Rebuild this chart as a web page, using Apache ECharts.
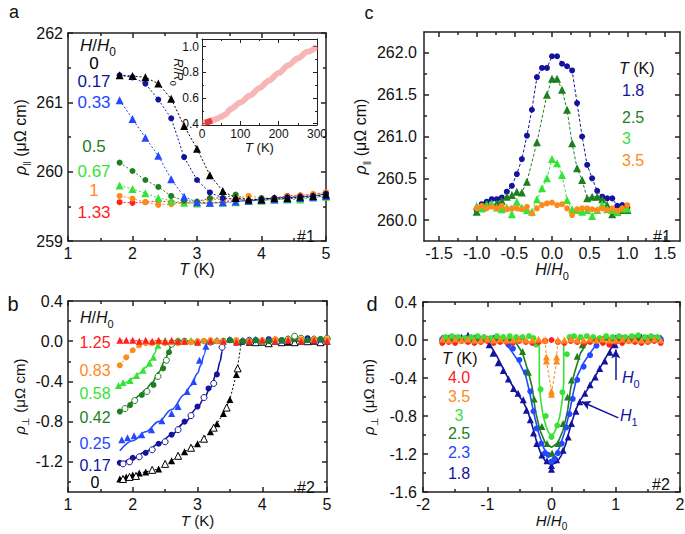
<!DOCTYPE html>
<html><head><meta charset="utf-8">
<script src="https://cdn.jsdelivr.net/npm/echarts@6/dist/echarts.min.js"></script>
<style>html,body{margin:0;padding:0;background:#fff}#c{width:685px;height:534px}</style>
</head><body><div id="c"></div>
<script>
// ================= DATA =================
// Panel a : rho_par vs T for several H/H0
const aT     = [1.8,2.0,2.2,2.4,2.6,2.8,3.0,3.2,3.4,3.6,3.8,4.0,4.2,4.4,4.6,4.8,5.0];
const aH0    = [261.39,261.38,261.36,261.27,261.05,260.66,260.33,259.95,259.72,259.62,259.60,259.60,259.62,259.62,259.64,259.65,259.67];
const aH017  = [261.39,261.36,261.27,261.04,260.77,260.21,259.88,259.70,259.62,259.60,259.58,259.60,259.62,259.63,259.64,259.65,259.68];
const aH033  = [261.03,260.76,260.49,260.23,259.89,259.64,259.56,259.55,259.56,259.57,259.58,259.59,259.60,259.61,259.62,259.63,259.65];
const aH05   = [260.13,260.01,259.88,259.78,259.65,259.58,259.57,259.62,259.62,259.67,259.58,259.62,259.60,259.62,259.63,259.64,259.68];
const aH067  = [259.80,259.75,259.69,259.62,259.58,259.55,259.54,259.55,259.55,259.56,259.58,259.58,259.60,259.60,259.60,259.63,259.64];
const aH1    = [259.65,259.61,259.56,259.52,259.53,259.55,259.56,259.60,259.60,259.62,259.65,259.62,259.62,259.64,259.66,259.68,259.70];
const aH133  = [259.56,259.55,259.56,259.58,259.56,259.55,259.55,259.54,259.56,259.60,259.58,259.60,259.62,259.65,259.66,259.67,259.70];
const aLabels = ['0','0.17','0.33','0.5','0.67','1','1.33'];
// inset R/R0 vs T
const insetT = [0,5,10,20,30,40,50,60,75,100,125,150,175,200,225,250,275,300];
const insetR = [0.41,0.41,0.41,0.42,0.43,0.44,0.455,0.47,0.515,0.565,0.62,0.678,0.737,0.795,0.855,0.91,0.96,1.0];
const insetLowT = [8,14,20,26];
const insetLowR = [0.408,0.412,0.418,0.425];

// Panel c : rho_par vs H/H0 for several T
const cH   = [-1.0,-0.933,-0.867,-0.8,-0.733,-0.667,-0.6,-0.533,-0.467,-0.4,-0.333,-0.267,-0.2,-0.133,-0.067,0,0.067,0.133,0.2,0.267,0.333,0.4,0.467,0.533,0.6,0.667,0.733,0.8,0.867,0.933,1.0];
const cT18 = [260.12,260.19,260.22,260.25,260.25,260.27,260.34,260.41,260.55,260.73,261.01,261.32,261.71,261.82,261.82,261.96,261.96,261.87,261.84,261.79,261.40,261.00,260.66,260.50,260.35,260.28,260.26,260.26,260.17,260.18,260.15];
const cT25 = [260.10,260.15,260.20,260.18,260.20,260.23,260.28,260.30,260.34,260.33,260.46,null,260.93,null,261.50,261.69,261.69,261.56,261.32,260.92,260.62,260.48,260.26,260.28,260.28,260.25,260.18,260.07,260.10,260.12,260.12];
const cT3  = [260.17,260.14,260.18,260.20,260.15,260.13,260.15,260.07,260.22,260.15,260.12,260.10,260.25,260.38,260.50,260.73,260.68,260.54,260.24,260.13,260.12,260.10,260.12,260.05,260.12,260.19,260.13,260.12,260.10,260.14,260.14];
const cT35 = [260.14,260.17,260.14,260.16,260.14,260.17,260.13,260.14,260.14,260.13,260.16,260.08,260.14,260.18,260.20,260.21,260.18,260.19,260.14,260.06,260.13,260.14,260.14,260.13,260.12,260.14,260.12,260.14,260.11,260.14,260.18];
const cLabels = ['1.8','2.5','3','3.5'];

// Panel b : rho_perp vs T for several H/H0
const bRedT = [1.8,1.9,2.0,2.1,2.2,2.3,2.4,2.5,2.6,2.7,2.8,3.0,3.2,3.4,3.6,3.8,4.0,4.2,4.4,4.6,4.8,5.0];
const bRedR = [0.01,0.01,0.01,0.0,0.01,0.0,0.01,0.0,0.01,0.0,0.0,-0.01,0.0,0.0,-0.01,0.0,0.01,0.0,0.01,0.0,0.01,0.0];
const bOrT  = [1.8,1.9,2.0,2.1,2.2,2.3,2.4,2.5,2.6,2.7,2.8,2.9,3.0,3.1,3.2,3.3,3.4,3.6,3.8,4.0,4.2,4.4,4.6,4.8,5.0];
const bOrR  = [-0.24,-0.16,-0.09,-0.04,-0.02,-0.02,-0.01,-0.02,-0.01,-0.02,-0.01,-0.01,0.0,0.0,0.01,0.0,-0.01,0.01,0.0,0.01,0.02,0.01,0.02,0.02,0.02];
const bLgT  = [1.78,1.85,1.96,2.06,2.16,2.26,2.32,2.39,2.5,2.6,2.7,2.8,2.9,3.0,3.2,3.4,3.6,3.8,4.0,4.2,4.4,4.6,4.8,5.0];
const bLgR  = [-0.44,-0.41,-0.39,-0.34,-0.29,-0.22,-0.16,-0.04,0.01,0.0,0.01,0.0,0.01,0.0,0.01,0.0,0.01,0.01,0.0,0.01,0.02,0.01,0.02,0.01];
const bLgFitT = [1.8,1.9,2.0,2.1,2.2,2.28,2.34,2.38,2.4];
const bLgFitR = [-0.45,-0.41,-0.37,-0.32,-0.26,-0.19,-0.12,-0.05,0.0];
const bDgT  = [1.8,1.96,2.14,2.32,2.47,2.56,2.7,2.9,3.1,3.3,3.5,3.7,3.9,4.1,4.3,4.5,4.7,4.9];
const bDgR  = [-0.70,-0.635,-0.535,-0.435,-0.27,-0.11,0.0,-0.01,0.0,0.0,0.01,0.0,0.01,0.0,0.01,0.02,0.01,0.02];
const bDgOT = [1.88,2.03,2.22,2.39,2.52,2.6,2.8,3.0,3.2,3.4,3.6,3.8,4.0,4.2,4.4,4.5,4.6,4.8,5.0];
const bDgOR = [-0.67,-0.59,-0.50,-0.35,-0.19,-0.03,0.0,-0.01,-0.01,0.0,-0.01,0.0,0.0,0.01,0.02,0.05,0.03,0.02,0.03];
const bDgFitT = [1.8,1.9,2.0,2.1,2.2,2.3,2.4,2.5,2.55,2.6,2.62];
const bDgFitR = [-0.72,-0.66,-0.60,-0.54,-0.48,-0.41,-0.31,-0.19,-0.11,-0.03,0.0];
const bBlT  = [1.83,1.92,2.02,2.14,2.29,2.45,2.6,2.7,2.84,2.94,3.03,3.13,3.3,3.5,3.7,3.9,4.1,4.3,4.5,4.7,4.9];
const bBlR  = [-0.98,-0.96,-0.94,-0.93,-0.88,-0.79,-0.72,-0.65,-0.50,-0.40,-0.19,-0.05,0.01,0.02,0.01,0.02,0.02,0.01,0.03,0.02,0.02];
const bBlFitT = [1.8,2.0,2.2,2.4,2.6,2.8,2.9,3.0,3.05,3.1,3.14];
const bBlFitR = [-1.09,-0.99,-0.90,-0.80,-0.68,-0.53,-0.44,-0.32,-0.24,-0.14,0.0];
const bNvT  = [1.8,2.0,2.2,2.4,2.6,2.8,3.0,3.17,3.3,3.5,3.7,3.9,4.1,4.3,4.5,4.7,4.9];
const bNvR  = [-1.21,-1.16,-1.11,-1.02,-0.93,-0.80,-0.65,-0.47,-0.33,0.01,0.0,0.01,0.02,0.01,0.02,0.03,0.02];
const bNvOT = [1.85,1.95,2.1,2.3,2.5,2.7,2.9,3.1,3.25,3.38,3.6,3.8,4.0,4.2,4.4,4.6,4.8,5.0];
const bNvOR = [-1.22,-1.20,-1.15,-1.08,-1.00,-0.88,-0.74,-0.56,-0.42,-0.06,0.0,0.01,0.0,0.01,0.02,0.01,0.02,0.02];
const bNvFitT = [1.8,2.0,2.2,2.4,2.6,2.8,3.0,3.1,3.2,3.3,3.35,3.38,3.4];
const bNvFitR = [-1.23,-1.17,-1.10,-1.02,-0.93,-0.81,-0.66,-0.57,-0.46,-0.31,-0.2,-0.1,0.0];
const bKT   = [1.8,1.9,2.0,2.1,2.2,2.4,2.6,2.8,3.0,3.2,3.3,3.4,3.5,3.6,3.68,3.8,4.0,4.2,4.4,4.6,4.8,5.0];
const bKR   = [-1.37,-1.35,-1.33,-1.31,-1.30,-1.27,-1.19,-1.10,-1.02,-0.90,-0.82,-0.72,-0.58,-0.33,0.0,-0.01,-0.01,0.0,-0.01,0.0,0.0,0.0];
const bKOT  = [1.85,1.95,2.05,2.3,2.5,2.7,2.9,3.1,3.25,3.45,3.62,3.9,4.1,4.3,4.5,4.7,4.9];
const bKOR  = [-1.37,-1.35,-1.34,-1.28,-1.22,-1.14,-1.06,-0.97,-0.86,-0.66,-0.27,-0.01,-0.02,-0.01,-0.01,0.0,-0.01];
const bLabels = ['1.25','0.83','0.58','0.42','0.25','0.17','0'];

// Panel d : rho_perp vs H/H0 for several T
const dRedH = [-1.7,-1.6,-1.5,-1.4,-1.3,-1.2,-1.1,-1.0,-0.9,-0.8,-0.7,-0.6,-0.5,-0.4,-0.3,-0.2,-0.1,0,0.1,0.2,0.3,0.4,0.5,0.6,0.7,0.8,0.9,1.0,1.1,1.2,1.3,1.4,1.5,1.6,1.7];
const dRedR = [-0.03,-0.02,-0.03,-0.01,-0.02,-0.03,-0.02,-0.01,-0.03,-0.02,-0.02,-0.03,-0.01,-0.02,-0.03,-0.02,-0.01,0.0,-0.02,-0.03,-0.01,-0.02,-0.03,-0.02,-0.01,-0.03,-0.05,-0.02,-0.03,-0.01,-0.02,-0.03,-0.02,-0.01,-0.03];
const dOrBaseH = [-1.7,-1.6,-1.5,-1.4,-1.3,-1.2,-1.1,-1.0,-0.9,-0.8,-0.7,-0.6,-0.5,-0.4,-0.3,-0.2,0.2,0.3,0.4,0.5,0.6,0.7,0.8,0.9,1.0,1.1,1.2,1.3,1.4,1.5,1.6,1.7];
const dOrBaseR = [0.01,0.0,0.01,0.0,0.01,0.0,0.0,0.01,0.0,0.01,0.0,0.0,0.01,0.0,0.0,0.01,0.0,0.01,0.0,0.0,0.01,0.0,0.01,0.0,0.0,0.01,0.0,0.01,0.0,0.0,0.01,0.0];
const dOrH = [-0.1,-0.08,-0.08,0,0,0.08,0.08,0.1];
const dOrR = [0,-0.18,-0.22,-0.54,-0.57,-0.22,-0.18,0];
const dLgBaseH = [-1.65,-1.55,-1.45,-1.35,-1.25,-1.15,-1.05,-0.95,-0.85,-0.75,-0.65,-0.55,-0.45,-0.35,-0.28,0.28,0.35,0.45,0.55,0.65,0.75,0.85,0.95,1.05,1.15,1.25,1.35,1.45,1.55,1.65];
const dLgBaseR = [0.03,0.04,0.03,0.02,0.03,0.04,0.03,0.02,0.04,0.03,0.04,0.03,0.03,0.04,0.02,0.03,0.04,0.03,0.04,0.03,0.02,0.04,0.03,0.04,0.03,0.04,0.05,0.03,0.04,0.03];
const dLgH = [-0.24,-0.17,-0.09,0,0.09,0.17,0.24];
const dLgR = [-0.05,-0.52,-0.80,-1.02,-0.90,-0.55,-0.15];
const dLgFitH = [-0.19,-0.19,-0.17,-0.13,-0.08,-0.04,0,0.04,0.08,0.13,0.17,0.19,0.19];
const dLgFitR = [0,-0.45,-0.62,-0.80,-0.92,-0.98,-1.0,-0.98,-0.92,-0.80,-0.62,-0.45,0];
const dDgBaseH = [-1.65,-1.55,-1.45,-1.35,-1.25,-1.15,-1.05,-0.95,-0.85,-0.75,-0.65,0.65,0.75,0.85,0.95,1.05,1.15,1.25,1.35,1.45,1.55,1.65];
const dDgBaseR = [0.02,0.01,0.03,0.02,0.01,0.02,0.03,0.01,0.02,0.03,0.02,0.02,0.01,0.03,0.02,0.02,0.01,0.03,0.02,0.01,0.02,0.03];
const dDgH = [-0.45,-0.36,-0.27,-0.15,-0.07,0.01,0.1,0.18,0.25,0.31,0.4,0.48];
const dDgR = [-0.12,-0.34,-0.62,-0.91,-1.09,-1.19,-1.09,-0.88,-0.60,-0.42,-0.17,-0.05];
const dDgFitH = [-0.58,-0.45,-0.36,-0.3,-0.25,-0.18,-0.1,0,0.1,0.18,0.25,0.3,0.36,0.45,0.58];
const dDgFitR = [0,-0.14,-0.34,-0.50,-0.75,-0.95,-1.08,-1.13,-1.08,-0.95,-0.75,-0.50,-0.34,-0.14,0];
const dBlBaseH = [-1.7,-1.6,-1.5,-1.4,-1.3,-1.2,-1.1,-1.0,-0.9,-0.8,0.8,0.9,1.0,1.1,1.2,1.3,1.4,1.5,1.6,1.7];
const dBlBaseR = [0.01,0.02,0.0,0.01,0.02,0.01,0.0,0.01,0.02,0.01,0.01,0.0,0.02,0.01,0.01,0.02,0.0,0.01,0.02,0.01];
const dBlH = [-0.67,-0.6,-0.5,-0.4,-0.33,-0.28,-0.23,-0.16,-0.1,-0.05,0,0.05,0.1,0.16,0.23,0.28,0.33,0.4,0.5,0.6,0.7];
const dBlR = [-0.05,-0.09,-0.21,-0.34,-0.54,-0.75,-0.93,-1.09,-1.19,-1.21,-1.28,-1.25,-1.19,-1.09,-0.92,-0.78,-0.62,-0.42,-0.28,-0.16,-0.06];
const dBlFitH = [-0.75,-0.62,-0.5,-0.4,-0.34,-0.28,-0.2,-0.12,-0.05,0,0.05,0.12,0.2,0.28,0.34,0.4,0.5,0.62,0.75];
const dBlFitR = [0,-0.12,-0.24,-0.38,-0.55,-0.76,-0.98,-1.14,-1.21,-1.22,-1.21,-1.14,-0.98,-0.76,-0.55,-0.38,-0.24,-0.12,0];
const dNvBaseH = [-1.7,-1.6,-1.5,-1.4,-1.3,-1.2,-1.1,-1.0,1.0,1.1,1.2,1.3,1.4,1.5,1.6,1.7];
const dNvBaseR = [0.02,0.01,0.02,0.03,0.05,0.02,0.01,0.01,0.0,0.02,0.01,0.02,0.03,0.02,0.01,0.02];
const dNvH = [-0.97,-0.91,-0.83,-0.75,-0.67,-0.59,-0.52,-0.44,-0.39,-0.33,-0.28,-0.23,-0.15,-0.07,0.0,0.0,0.08,0.18,0.26,0.31,0.38,0.44,0.52,0.6,0.68,0.75,0.83,0.91,0.99];
const dNvR = [-0.05,-0.14,-0.24,-0.32,-0.41,-0.51,-0.56,-0.63,-0.74,-0.84,-0.98,-1.09,-1.21,-1.27,-1.32,-1.36,-1.26,-1.16,-1.02,-0.88,-0.75,-0.65,-0.56,-0.47,-0.39,-0.30,-0.22,-0.13,-0.05];
const dNvFitH = [-1.0,-0.85,-0.7,-0.55,-0.45,-0.38,-0.3,-0.22,-0.15,-0.08,0,0.08,0.15,0.22,0.3,0.38,0.45,0.55,0.7,0.85,1.0];
const dNvFitR = [0,-0.17,-0.37,-0.55,-0.64,-0.73,-0.90,-1.10,-1.22,-1.29,-1.31,-1.29,-1.22,-1.10,-0.90,-0.73,-0.63,-0.53,-0.36,-0.18,0];
const dArrowH0 = [[1.0,-0.42],[1.0,-0.1]];
const dArrowH1 = [[1.04,-0.82],[0.47,-0.65]];
const dLabels = ['4.0','3.5','3','2.5','2.3','1.8'];

// tick values
const aXTicks=[1,2,3,4,5], aXMinor=[1.5,2.5,3.5,4.5], aYTicks=[259,260,261,262], aYMinor=[259.5,260.5,261.5];
const iXTicks=[0,100,200,300], iXMinor=[50,150,250], iYTicks=[0.4,0.6,0.8,1.0], iYMinor=[0.5,0.7,0.9];
const cXTicks=[-1.5,-1,-0.5,0,0.5,1,1.5], cXMinor=[-1.25,-0.75,-0.25,0.25,0.75,1.25], cYTicks=[260,260.5,261,261.5,262], cYMinor=[260.25,260.75,261.25,261.75];
const bXTicks=[1,2,3,4,5], bXMinor=[1.5,2.5,3.5,4.5], bYTicks=[-1.2,-0.8,-0.4,0,0.4], bYMinor=[-1.4,-1.0,-0.6,-0.2,0.2];
const dXTicks=[-2,-1,0,1,2], dXMinor=[-1.5,-0.5,0.5,1.5], dYTicks=[-1.6,-1.2,-0.8,-0.4,0,0.4], dYMinor=[-1.4,-1.0,-0.6,-0.2,0.2];

// ================= STYLE / BUILD =================
const FF = '"Liberation Sans", Arial, Helvetica, sans-serif';
const AX = '#222';
const COL = {k:'#000000', nv:'#13139e', bl:'#2448ff', dg:'#1e7f1e', lg:'#36e236', or:'#ff8a1c', red:'#ff2020'};

function richFor(fs, color) {
  return {
    i: {fontStyle:'italic', fontSize:fs, fontFamily:FF, color:color, fill:color},
    s: {fontSize:Math.round(fs*0.68), fontFamily:FF, color:color, fill:color, padding:[Math.round(fs*0.8),0,0,0]}
  };
}
function nameStyle(fs) { return {fontSize:fs, fontFamily:FF, color:'#111', rich:richFor(fs,'#111')}; }

const xAxes = [], yAxes = [];
function mkAxis(g, pos, min, max, ticks, minors, fmt, o, name, gap) {
  const ls = {color:AX, width:o.lw};
  const major = {
    gridIndex:g, type:'value', position:pos, min:min, max:max,
    splitLine:{show:false},
    axisLine:{show:true, onZero:false, lineStyle:ls},
    axisTick:{show:true, inside:true, length:o.tl, customValues:ticks, lineStyle:ls},
    axisLabel:{show:!!fmt, customValues:ticks, formatter:fmt||(()=>''), fontSize:o.fs, fontFamily:FF, color:'#111', margin:(pos==='left'||pos==='right')?o.ym:o.xm}
  };
  if (name) Object.assign(major, {name:name, nameLocation:'middle', nameGap:gap, nameTextStyle:nameStyle(o.nfs)});
  const minor = {
    gridIndex:g, type:'value', position:pos, min:min, max:max,
    splitLine:{show:false}, axisLine:{show:false, onZero:false},
    axisTick:{show:true, inside:true, length:Math.round(o.tl*0.6), customValues:minors, lineStyle:ls},
    axisLabel:{show:false}
  };
  return [major, minor];
}
function panel(g, o) {
  const xi = xAxes.length, yi = yAxes.length;
  xAxes.push(...mkAxis(g,'bottom',o.x[0],o.x[1],o.xt,o.xmn,o.xf,o,o.xn,o.xg));
  xAxes.push(...mkAxis(g,'top',o.x[0],o.x[1],o.xt,o.xmn,null,o));
  yAxes.push(...mkAxis(g,'left',o.y[0],o.y[1],o.yt,o.ymn,o.yf,o,o.yn,o.yg));
  yAxes.push(...mkAxis(g,'right',o.y[0],o.y[1],o.yt,o.ymn,null,o));
  return {x:xi, y:yi};
}
const f0 = v => String(v), f1 = v => v.toFixed(1);
const xTName = '{i|T} (K)', xHName = '{i|H}/{i|H}{s|0}';

const grids = [
  {left:68, top:33, width:258, height:208},
  {left:202, top:39, width:115, height:86, show:true, backgroundColor:'#fff', borderWidth:0},
  {left:424, top:32, width:256, height:209},
  {left:68, top:301, width:259, height:191},
  {left:423, top:302, width:257, height:190}
].map(g => Object.assign({containLabel:false, outerBoundsMode:'none'}, g));

const PA = panel(0, {x:[1,5], xt:aXTicks, xmn:aXMinor, xf:f0, y:[259,262], yt:aYTicks, ymn:aYMinor, yf:f0,
  lw:1.5, tl:5, fs:16, nfs:16, xm:4, ym:5, xn:xTName, xg:14, yn:'{i|ρ}{s|‖} (μΩ cm)', yg:36});
const PI = panel(1, {x:[0,300], xt:iXTicks, xmn:iXMinor, xf:f0, y:[0.39,1.06], yt:iYTicks, ymn:iYMinor, yf:f1,
  lw:1, tl:4, fs:12, nfs:13, xm:3, ym:3, xn:xTName, xg:16});
const PC = panel(2, {x:[-1.7,1.7], xt:cXTicks, xmn:cXMinor, xf:f1, y:[259.75,262.25], yt:cYTicks, ymn:cYMinor, yf:f1,
  lw:1.5, tl:5, fs:16, nfs:16, xm:4, ym:7, xn:xHName, xg:14, yn:'{i|ρ}{s|‖} (μΩ cm)', yg:52});
const PB = panel(3, {x:[1,5], xt:bXTicks, xmn:bXMinor, xf:f0, y:[-1.5,0.4], yt:bYTicks, ymn:bYMinor, yf:f1,
  lw:1.5, tl:5, fs:16, nfs:15, xm:4, ym:5, xn:xTName, xg:14, yn:'{i|ρ}{s|⊥} (μΩ cm)', yg:38});
const PD = panel(4, {x:[-2,2], xt:dXTicks, xmn:dXMinor, xf:f0, y:[-1.6,0.4], yt:dYTicks, ymn:dYMinor, yf:f1,
  lw:1.5, tl:5, fs:16, nfs:15, xm:4, ym:6, xn:xHName, xg:14, yn:'{i|ρ}{s|⊥} (μΩ cm)', yg:44});

const pts = (xs, ys) => xs.map((x,i)=>[x, ys[i]]).filter(p => p[1] !== null && p[1] !== undefined);
const series = [];
function mk(P, xs, ys, o) {
  const withLine = !!o.lt;
  const s = {
    type: withLine ? 'line' : 'scatter', xAxisIndex:P.x, yAxisIndex:P.y, data:pts(xs,ys),
    symbol: o.sym || 'circle', symbolSize: o.size || (o.sym==='triangle'?8:6),
    itemStyle:{color: o.open ? '#fff' : o.c, borderColor:o.c, borderWidth: o.open ? 1 : 0, opacity:1},
    z: o.z || 3, silent:true, animation:false
  };
  if (withLine) Object.assign(s, {showAllSymbol:true, connectNulls:true,
      lineStyle:{color:o.c, width:o.lw||1, type:o.lt}, smooth:o.smooth||false});
  series.push(s);
  return s;
}
function fit(P, xs, ys, c, o) {
  o = o || {};
  const s = {type:'line', xAxisIndex:P.x, yAxisIndex:P.y, data:pts(xs,ys), symbol:'none', showSymbol:false,
    lineStyle:{color:c, width:o.lw||1.6, type:o.lt||'solid'}, smooth:o.smooth===undefined?0.35:o.smooth,
    smoothMonotone:o.mono||'x', z:2, silent:true, animation:false};
  series.push(s); return s;
}
const DOT = [2,2], DASH = [3,2];

// panel a
mk(PA, aT, aH133, {c:COL.red, lt:DOT});
mk(PA, aT, aH1, {c:COL.or, lt:DOT});
mk(PA, aT, aH067, {c:COL.lg, sym:'triangle', lt:DOT});
mk(PA, aT, aH05, {c:COL.dg, lt:DOT});
mk(PA, aT, aH033, {c:COL.bl, sym:'triangle', lt:DOT});
mk(PA, aT, aH017, {c:COL.nv, lt:DOT});
mk(PA, aT, aH0, {c:COL.k, sym:'triangle', lt:DOT});
// inset
fit(PI, insetT, insetR, 'rgba(240,120,120,0.55)', {lw:6, smooth:0.3});
fit(PI, insetLowT, insetLowR, '#e83a3a', {lw:6, smooth:false});
// panel c
mk(PC, cH, cT35, {c:COL.or, lt:DASH, z:6});
mk(PC, cH, cT3, {c:COL.lg, sym:'triangle', lt:DASH, z:5});
mk(PC, cH, cT25, {c:COL.dg, sym:'triangle', lt:DASH, z:4});
mk(PC, cH, cT18, {c:COL.nv, lt:DASH, z:3});
// panel b
fit(PB, bLgFitT, bLgFitR, COL.lg);
fit(PB, bDgFitT, bDgFitR, COL.dg);
fit(PB, bBlFitT, bBlFitR, COL.bl);
fit(PB, bNvFitT, bNvFitR, COL.nv);
mk(PB, bKT, bKR, {c:COL.k, sym:'triangle', lt:DOT, size:7});
mk(PB, bKOT, bKOR, {c:COL.k, sym:'triangle', open:true, size:7});
mk(PB, bNvT, bNvR, {c:COL.nv});
mk(PB, bNvOT, bNvOR, {c:COL.nv, open:true});
mk(PB, bBlT, bBlR, {c:COL.bl, sym:'triangle', size:7});
mk(PB, bDgT, bDgR, {c:COL.dg});
mk(PB, bDgOT, bDgOR, {c:COL.dg, open:true});
mk(PB, bLgT, bLgR, {c:COL.lg, sym:'triangle', size:7});
mk(PB, bOrT, bOrR, {c:COL.or, lt:DOT});
mk(PB, bRedT, bRedR, {c:COL.red, sym:'triangle', lt:DASH, size:7});
// panel d
const nvFit = fit(PD, dNvFitH, dNvFitR, COL.nv, {smooth:false});
fit(PD, dBlFitH, dBlFitR, COL.bl, {smooth:false});
fit(PD, dDgFitH, dDgFitR, COL.dg, {smooth:false});
fit(PD, dLgFitH, dLgFitR, COL.lg, {smooth:false});
mk(PD, dNvBaseH, dNvBaseR, {c:COL.nv, sym:'triangle', size:7});
mk(PD, dNvH, dNvR, {c:COL.nv, sym:'triangle', size:7});
mk(PD, dBlBaseH, dBlBaseR, {c:COL.bl});
mk(PD, dBlH, dBlR, {c:COL.bl});
mk(PD, dDgBaseH, dDgBaseR, {c:COL.dg, sym:'triangle', size:7});
mk(PD, dDgH, dDgR, {c:COL.dg, sym:'triangle', size:7});
mk(PD, dLgBaseH, dLgBaseR, {c:COL.lg});
mk(PD, dLgH, dLgR, {c:COL.lg});
mk(PD, dRedH, dRedR, {c:COL.red});
mk(PD, dOrBaseH, dOrBaseR, {c:COL.or, sym:'triangle', size:7, z:6});
mk(PD, dOrH, dOrR, {c:COL.or, sym:'triangle', size:7, lt:DASH, z:6});
nvFit.markLine = {silent:true, animation:false, symbol:['none','arrow'], symbolSize:[7,9],
  lineStyle:{color:COL.nv, width:1.5, type:'solid'}, label:{show:false},
  data:[[{coord:dArrowH0[0]},{coord:dArrowH0[1]}],[{coord:dArrowH1[0]},{coord:dArrowH1[1]}]]};

// ---------- text annotations ----------
const graphics = [];
function txt(x, y, text, color, fs, align, rot) {
  graphics.push({type:'text', x:x, y:y, z:100, silent:true, rotation:rot||0,
    style:{text:text, fill:color, fontSize:fs, fontFamily:FF, align:align||'left', textAlign:align||'left',
      verticalAlign:'middle', textVerticalAlign:'middle', rich:richFor(fs,color)}});
}
txt(14, 12, 'a', '#111', 18, 'center');
txt(369, 13, 'c', '#111', 18, 'center');
txt(13, 304, 'b', '#111', 20, 'center');
txt(372, 304, 'd', '#111', 20, 'center');
// inset y name
txt(178, 72, '{i|R}/{i|R}{s|0}', '#111', 13, 'center', -Math.PI/2);
// panel a legend
txt(80, 45, xHName, '#111', 17);
const aCols = [COL.k, COL.nv, COL.bl, COL.dg, COL.lg, COL.or, COL.red];
const aY = [63, 81, 102, 146, 171, 190, 212];
aLabels.forEach((t,i)=>txt(94, aY[i], t, aCols[i], 17, 'center'));
txt(297, 236, '#1', '#111', 16);
// panel c legend
txt(619, 68, xTName, '#111', 16);
const cCols = [COL.nv, COL.dg, COL.lg, COL.or], cY = [90, 117, 138, 160];
cLabels.forEach((t,i)=>txt(622, cY[i], t, cCols[i], 16));
txt(653, 236, '#1', '#111', 16);
// panel b legend
txt(80, 317, xHName, '#111', 16);
const bCols = [COL.red, COL.or, COL.lg, COL.dg, COL.bl, COL.nv, COL.k];
const bY = [342, 370, 393, 417, 443, 465, 482];
bLabels.forEach((t,i)=>txt(95, bY[i], t, bCols[i], 16, 'center'));
txt(297, 487, '#2', '#111', 16);
// panel d legend
txt(442, 358, xTName, '#111', 16);
const dCols = [COL.red, COL.or, COL.lg, COL.dg, COL.bl, COL.nv];
const dY = [377, 396, 415, 433, 452, 473];
dLabels.forEach((t,i)=>txt(459, dY[i], t, dCols[i], 16, 'center'));
txt(622, 377, '{i|H}{s|0}', COL.nv, 16);
txt(620, 415, '{i|H}{s|1}', COL.nv, 16);
txt(652, 484, '#2', '#111', 16);

const chart = echarts.init(document.getElementById('c'), null, {renderer:'svg'});
chart.setOption({
  animation:false, backgroundColor:'#fff',
  grid:grids, xAxis:xAxes, yAxis:yAxes, series:series, graphic:{elements:graphics}
});
</script></body></html>
